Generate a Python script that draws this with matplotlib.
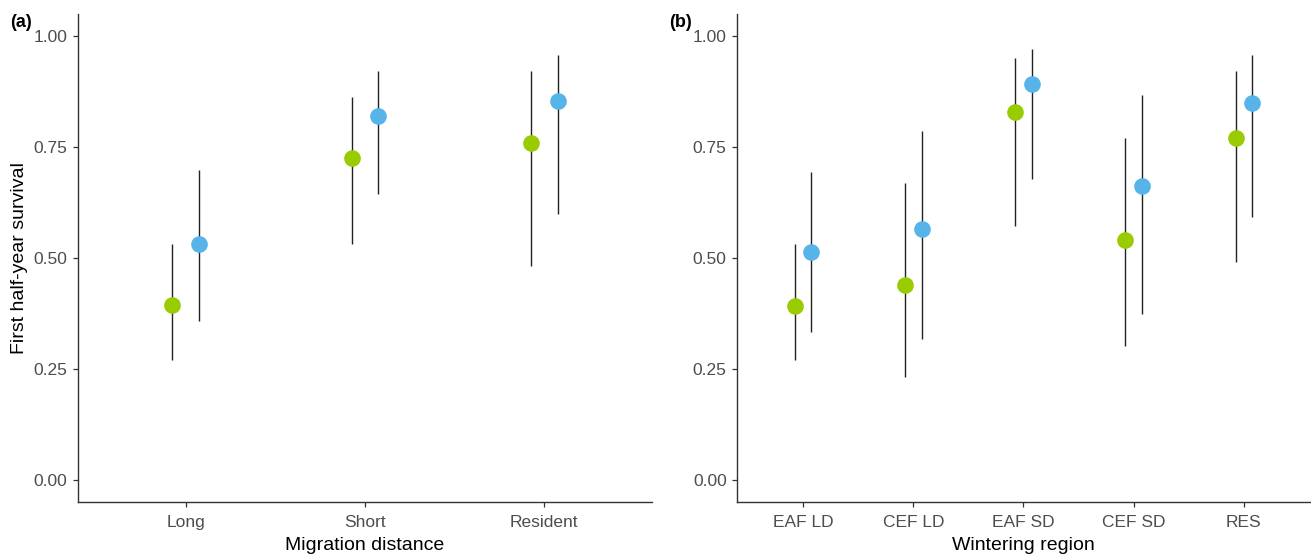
import matplotlib.pyplot as plt

# %%

plt.rcParams["font.family"] = ["Liberation Sans", "DejaVu Sans"]

green = "#99CC00"
blue = "#56B4E9"

# panel a: migration distance
dist_cats = ["Long", "Short", "Resident"]
dist_green = [0.394, 0.725, 0.760]
dist_green_lo = [0.271, 0.532, 0.482]
dist_green_hi = [0.531, 0.862, 0.921]
dist_blue = [0.531, 0.821, 0.854]
dist_blue_lo = [0.357, 0.645, 0.600]
dist_blue_hi = [0.698, 0.921, 0.957]

# panel b: wintering region
reg_cats = ["EAF LD", "CEF LD", "EAF SD", "CEF SD", "RES"]
reg_green = [0.391, 0.440, 0.830, 0.540, 0.770]
reg_green_lo = [0.271, 0.232, 0.573, 0.302, 0.491]
reg_green_hi = [0.531, 0.670, 0.951, 0.771, 0.921]
reg_blue = [0.514, 0.566, 0.892, 0.662, 0.850]
reg_blue_lo = [0.334, 0.318, 0.678, 0.373, 0.592]
reg_blue_hi = [0.694, 0.787, 0.972, 0.867, 0.957]

yticks = [0.0, 0.25, 0.5, 0.75, 1.0]
dodge = 0.075


def panel(ax, cats, series, xlabel, tag):
    for (mid, lo, hi, col), off in zip(series, [-dodge, dodge]):
        xs = [i + 1 + off for i in range(len(cats))]
        ax.vlines(xs, lo, hi, color="#222222", lw=1.0, zorder=2)
        ax.plot(xs, mid, "o", ms=12, color=col, mec="none", zorder=3)
    ax.set_xlim(0.4, len(cats) + 0.6)
    ax.set_ylim(-0.05, 1.05)
    ax.set_xticks(range(1, len(cats) + 1))
    ax.set_xticklabels(cats)
    ax.set_yticks(yticks)
    ax.set_yticklabels([f"{v:.2f}" for v in yticks])
    ax.tick_params(colors="#333333", labelcolor="#4D4D4D", labelsize=12.5,
                   length=3.5, width=0.9, direction="out", pad=4)
    ax.tick_params(axis="x", pad=6)
    for s in ["top", "right"]:
        ax.spines[s].set_visible(False)
    for s in ["left", "bottom"]:
        ax.spines[s].set_color("#333333")
        ax.spines[s].set_linewidth(1.0)
    ax.set_xlabel(xlabel, fontsize=14, labelpad=5)
    ax.text(-0.118, 1.0, tag, transform=ax.transAxes, fontsize=13,
            fontweight="bold", ha="left", va="top")


fig = plt.figure(figsize=(13.11, 5.57), dpi=100)
ax1 = fig.add_axes([0.0595, 0.0987, 0.4378, 0.876])
ax2 = fig.add_axes([0.5622, 0.0987, 0.437, 0.876])

panel(ax1, dist_cats,
      [(dist_green, dist_green_lo, dist_green_hi, green),
       (dist_blue, dist_blue_lo, dist_blue_hi, blue)],
      "Migration distance", "(a)")
ax1.set_ylabel("First half-year survival", fontsize=14, labelpad=4)

panel(ax2, reg_cats,
      [(reg_green, reg_green_lo, reg_green_hi, green),
       (reg_blue, reg_blue_lo, reg_blue_hi, blue)],
      "Wintering region", "(b)")

fig.savefig("out.png", dpi=100)
